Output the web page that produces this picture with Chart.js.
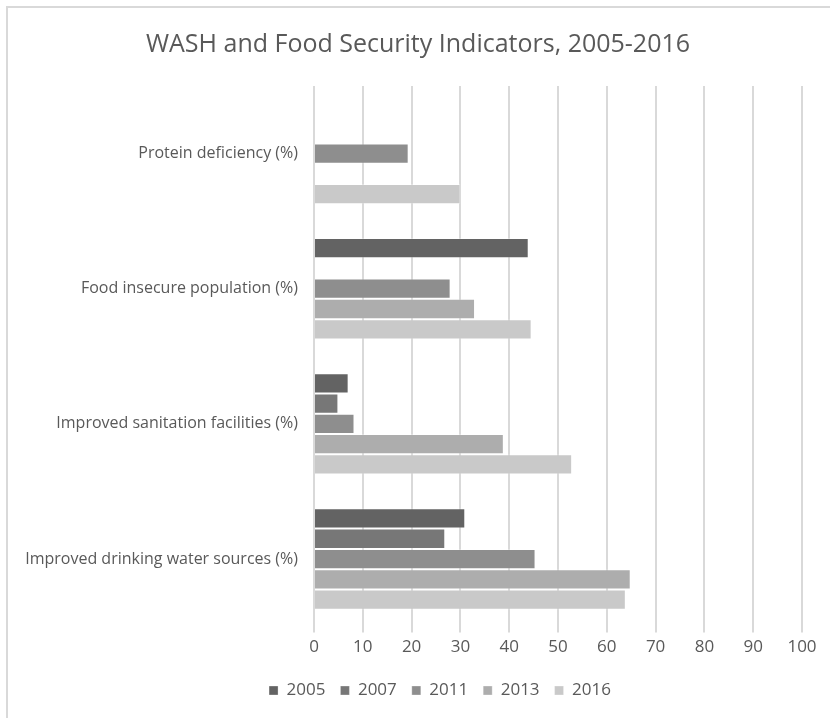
<!DOCTYPE html>
<html>
<head>
<meta charset="utf-8">
<script src="https://cdn.jsdelivr.net/npm/chart.js@4/dist/chart.umd.min.js"></script>
<style>
  html, body { margin: 0; padding: 0; background: #ffffff; }
  #wrap { width: 830px; height: 718px; }
</style>
</head>
<body>
<div id="wrap"><canvas id="c" width="830" height="718"></canvas></div>
<script>
const categories = [
  "Protein deficiency (%)",
  "Food insecure population (%)",
  "Improved sanitation facilities (%)",
  "Improved drinking water sources (%)"
];
const seriesNames = ["2005", "2007", "2011", "2013", "2016"];
const values2005 = [null, 44.0, 7.1, 31.0];
const values2007 = [null, null, 5.0, 26.9];
const values2011 = [19.4, 28.0, 8.3, 45.4];
const values2013 = [null, 33.0, 38.9, 64.9];
const values2016 = [30.0, 44.6, 52.9, 63.9];
const xTicks = [0, 10, 20, 30, 40, 50, 60, 70, 80, 90, 100];

const seriesValues = [values2005, values2007, values2011, values2013, values2016];
const seriesColors = ["#636363", "#777777", "#8e8e8e", "#adadad", "#c9c9c9"];
const textColor = "#595959";
const fontFamily = "'Open Sans', 'Liberation Sans', sans-serif";

const frame = {
  id: 'frame',
  beforeDraw(chart) {
    const ctx = chart.ctx;
    ctx.save();
    ctx.fillStyle = '#ffffff';
    ctx.fillRect(0, 0, chart.width, chart.height);
    ctx.strokeStyle = '#d9d9d9';
    ctx.lineWidth = 2;
    ctx.strokeRect(7, 7, chart.width + 20, chart.height + 20);
    ctx.restore();
  },
  afterLayout(chart) {
    if (chart.legend) {
      chart.legend.left += 34;
      chart.legend.right += 34;
    }
    if (chart.titleBlock) {
      chart.titleBlock.left += 12;
      chart.titleBlock.right += 12;
    }
  }
};

new Chart(document.getElementById('c'), {
  type: 'bar',
  data: {
    labels: categories,
    datasets: seriesNames.map((n, i) => ({
      label: n,
      data: seriesValues[i],
      backgroundColor: seriesColors[i],
      borderColor: 'rgba(255,255,255,0.3)',
      borderWidth: 1,
      categoryPercentage: 0.75,
      barPercentage: 1.0
    }))
  },
  options: {
    indexAxis: 'y',
    responsive: false,
    animation: false,
    devicePixelRatio: 1,
    layout: { padding: { top: 30, left: 10, right: 28, bottom: 9 } },
    plugins: {
      title: {
        display: true,
        text: 'WASH and Food Security Indicators, 2005-2016',
        color: textColor,
        font: { family: fontFamily, size: 25, weight: 'normal' },
        padding: { top: 0, bottom: 26 }
      },
      legend: {
        position: 'bottom',
        labels: {
          color: textColor,
          font: { family: fontFamily, size: 17 },
          boxWidth: 9,
          boxHeight: 9,
          padding: 15
        }
      },
      tooltip: { enabled: false }
    },
    scales: {
      x: {
        min: 0,
        max: 100,
        afterBuildTicks(scale) { scale.ticks = xTicks.map(v => ({ value: v })); },
        afterFit(scale) { scale.height += 6; },
        grid: {
          color: '#d9d9d9',
          lineWidth: 2,
          drawTicks: true,
          tickLength: 6,
          tickColor: '#d9d9d9'
        },
        border: { display: false },
        ticks: {
          color: textColor,
          font: { family: fontFamily, size: 17 },
          padding: 4,
          maxRotation: 0
        }
      },
      y: {
        grid: { display: false, drawTicks: false },
        border: { display: false },
        ticks: {
          color: textColor,
          font: { family: fontFamily, size: 16 },
          padding: 16
        },
        afterFit(scale) { scale.width = 304; }
      }
    }
  },
  plugins: [frame]
});
</script>
</body>
</html>
